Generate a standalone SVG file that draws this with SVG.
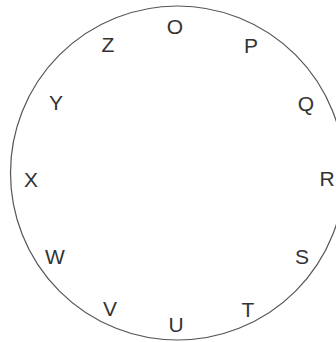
<svg xmlns="http://www.w3.org/2000/svg" width="336" height="342" viewBox="0 0 336 342">
<style>
.ring{fill:none;stroke:#555;stroke-width:1.2}
.lbl{font-family:"Liberation Sans",Arial,sans-serif;font-size:21px;fill:#333;text-anchor:middle}
</style>
<rect width="336" height="342" fill="#fff"/>
<g id="ring"><circle class="ring" cx="177.5" cy="173" r="167"/></g>
<g id="labels">
<g id="O"><text class="lbl" x="175" y="34">O</text></g>
<g id="P"><text class="lbl" x="251" y="53">P</text></g>
<g id="Q"><text class="lbl" x="306" y="111">Q</text></g>
<g id="R"><text class="lbl" x="327" y="186">R</text></g>
<g id="S"><text class="lbl" x="302" y="264">S</text></g>
<g id="T"><text class="lbl" x="248" y="317">T</text></g>
<g id="U"><text class="lbl" x="176" y="332">U</text></g>
<g id="V"><text class="lbl" x="110" y="316">V</text></g>
<g id="W"><text class="lbl" x="55" y="264">W</text></g>
<g id="X"><text class="lbl" x="31" y="187">X</text></g>
<g id="Y"><text class="lbl" x="56" y="110">Y</text></g>
<g id="Z"><text class="lbl" x="108" y="52">Z</text></g>
</g>
</svg>
